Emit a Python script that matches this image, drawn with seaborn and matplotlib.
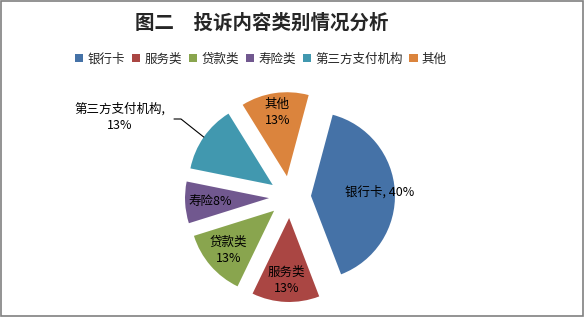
import numpy as np
import seaborn as sns
import matplotlib.pyplot as plt
from matplotlib.patches import Patch, Rectangle

# data
categories = ['银行卡', '服务类', '贷款类', '寿险类', '第三方支付机构', '其他']
shares = [40, 13, 13, 8, 13, 13]
slice_labels = ['银行卡, 40%', '服务类\n13%', '贷款类\n13%', '寿险8%', '第三方支付机构,\n13%', '其他\n13%']
colors = ['#4572A7', '#AA4643', '#89A54E', '#71588F', '#4198AF', '#DB843D']
title = '图二　投诉内容类别情况分析'

sns.set_style('white')
plt.rcParams['font.family'] = ['Noto Sans CJK SC', 'DejaVu Sans']

W, H = 584, 317
fig = plt.figure(figsize=(W / 100, H / 100), dpi=100)
fig.patch.set_facecolor('white')
# axes in pixel units, y going up
ax = fig.add_axes([0, 0, 1, 1])

cx, cy, r = 290, H - 197, 84
expl = 0.25 * r  # pie's explode is in data units
wedges, _ = ax.pie(shares, colors=colors, explode=[expl] * len(shares), startangle=75,
                   counterclock=False, radius=r, center=(cx, cy),
                   wedgeprops=dict(linewidth=0))
ax.set_xlim(0, W)
ax.set_ylim(0, H)
ax.set_aspect('auto')
ax.set_axis_off()

# label placement (fraction of radius from exploded apex)
label_frac = [0.82, 0.74, 0.72, 0.70, None, 0.77]
for i, w in enumerate(wedges):
    mid = np.deg2rad((w.theta1 + w.theta2) / 2)
    ux, uy = np.cos(mid), np.sin(mid)
    ox, oy = cx + expl * ux, cy + expl * uy
    if label_frac[i] is not None:
        f = label_frac[i]
        ax.text(ox + f * r * ux, oy + f * r * uy, slice_labels[i], ha='center', va='center',
                fontsize=9, linespacing=1.3, color='black')
    else:
        ex, ey = ox + r * ux, oy + r * uy
        tx, ty = 120, H - 117
        ax.text(tx, ty, slice_labels[i], ha='center', va='center', fontsize=9,
                linespacing=1.3, color='black')
        ax.plot([174, 181, ex], [H - 119, H - 119, ey], color='black', lw=0.8)

fig.text(262 / W, 1 - 23 / H, title, ha='center', va='center', fontsize=14, fontweight='bold')

handles = [Patch(facecolor=c, edgecolor='none') for c in colors]
fig.legend(handles, categories, loc='center', bbox_to_anchor=(261 / W, 1 - 59 / H), ncol=6,
           frameon=False, fontsize=9, handlelength=0.65, handleheight=0.65, handletextpad=0.35,
           columnspacing=0.55, borderpad=0)

ax.add_patch(Rectangle((0.5, 1.5), 582, 315, fill=False, edgecolor='#808080', lw=1.2))

fig.savefig('out.png', dpi=100)
